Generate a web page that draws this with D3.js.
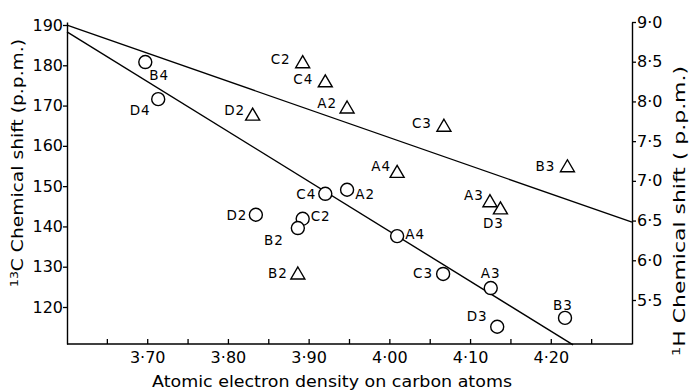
<!DOCTYPE html>
<html>
<head>
<meta charset="utf-8">
<script src="https://cdn.jsdelivr.net/npm/d3@7"></script>
<style>
  html, body { margin: 0; padding: 0; background: #fff; }
  svg { display: block; }
  text { font-family: "DejaVu Sans", "Liberation Sans", sans-serif; fill: #000; }
</style>
</head>
<body>
<svg id="chart" width="690" height="392"></svg>
<script>
// ---- Data ----
const xTicksMajor = [3.70, 3.80, 3.90, 4.00, 4.10, 4.20];
const xTicksMinor = [3.65, 3.75, 3.85, 3.95, 4.05, 4.15, 4.25];
const leftTicks = [120, 130, 140, 150, 160, 170, 180, 190];
const rightTicks = [5.5, 6.0, 6.5, 7.0, 7.5, 8.0, 8.5, 9.0];

// 13C shifts (circles, left axis)
const circleNames = ["B4", "D4", "C4", "A2", "D2", "C2", "B2", "A4", "C3", "A3", "D3", "B3"];
const circleDensity = [3.697, 3.713, 3.920, 3.947, 3.834, 3.892, 3.886, 4.009, 4.066, 4.125, 4.133, 4.217];
const circleC13 = [180.8, 171.6, 148.1, 149.1, 142.9, 141.9, 139.6, 137.6, 128.2, 124.7, 115.1, 117.3];

// 1H shifts (triangles, right axis)
const triNames = ["C2", "C4", "A2", "D2", "C3", "A4", "B3", "A3", "D3", "B2"];
const triDensity = [3.892, 3.920, 3.947, 3.830, 4.067, 4.009, 4.220, 4.124, 4.137, 3.886];
const triH1 = [8.50, 8.26, 7.93, 7.84, 7.70, 7.12, 7.19, 6.75, 6.66, 5.84];

// Regression lines (end points)
const lineC13Density = [3.60, 4.227];
const lineC13Shift = [188.3, 110.6];
const lineH1Density = [3.60, 4.30];
const lineH1Shift = [8.96, 6.48];

// Label placement (offset of label centre from marker, px)
const circleLabelOffset = [[14,13],[-18,11],[-19,0],[18,4],[-19,0],[18,-3],[-24,12],[18,-2],[-20,-1],[0,-15],[-20,-11],[-2,-13]];
const triLabelOffset = [[-22,-3],[-22,-2],[-20,-4],[-18,-4],[-22,-2],[-16,-5],[-22,0],[-16,-6],[-7,15],[-20,0]];

// ---- Layout ----
const L = 67, R = 632, T = 22, B = 344;
const svg = d3.select("#chart");

const x = d3.scaleLinear().domain([3.60, 4.30]).range([L, R]);
const yL = d3.scaleLinear().domain([190, 120]).range([25, 307]);
yL.domain([yL.invert(B), yL.invert(T)]).range([B, T]);
const yR = d3.scaleLinear().domain([9.0, 5.5]).range([22, 300]);
yR.domain([yR.invert(B), yR.invert(T)]).range([B, T]);

const fmtDot = (d, p) => d.toFixed(p).replace(".", "\u00B7");
const tickFont = "Liberation Sans";

// X axis (ticks pointing inward)
const gx = svg.append("g").attr("transform", `translate(0,${B})`);
gx.append("line").attr("x1", L).attr("x2", R).attr("stroke", "#000").attr("stroke-width", 1.4);
gx.selectAll("line.t").data(xTicksMajor.concat(xTicksMinor)).join("line")
  .attr("class", "t").attr("x1", d => x(d)).attr("x2", d => x(d))
  .attr("y1", 0).attr("y2", -5).attr("stroke", "#000").attr("stroke-width", 1.3);
gx.selectAll("text").data(xTicksMajor).join("text")
  .attr("x", d => x(d)).attr("y", 19).attr("text-anchor", "middle")
  .attr("font-family", tickFont).attr("font-size", 16).text(d => fmtDot(d, 2));

// Left axis
const gl = svg.append("g").attr("transform", `translate(${L},0)`);
gl.call(d3.axisLeft(yL).tickValues(leftTicks).tickSize(4).tickSizeOuter(0).tickFormat(d => d));
gl.select(".domain").attr("stroke-width", 1.4);
gl.selectAll(".tick line").attr("stroke-width", 1.3);
gl.selectAll(".tick text").attr("font-size", 16).attr("font-family", tickFont).attr("x", -4);

// Right axis
const gr = svg.append("g").attr("transform", `translate(${R},0)`);
gr.call(d3.axisRight(yR).tickValues(rightTicks).tickSize(4).tickSizeOuter(0).tickFormat(d => fmtDot(d, 1)));
gr.select(".domain").attr("stroke-width", 1.4);
gr.selectAll(".tick line").attr("stroke-width", 1.3);
gr.selectAll(".tick text").attr("font-size", 16).attr("font-family", tickFont).attr("x", 5);

// Axis titles
svg.append("text").attr("x", 332).attr("y", 387).attr("text-anchor", "middle")
  .attr("font-size", 15).attr("textLength", 360).attr("lengthAdjust", "spacingAndGlyphs")
  .text("Atomic electron density on carbon atoms");

const tl = svg.append("text").attr("transform", "translate(23,163) rotate(-90)")
  .attr("text-anchor", "middle").attr("font-size", 15)
  .attr("textLength", 248).attr("lengthAdjust", "spacingAndGlyphs");
tl.append("tspan").attr("font-size", 10).attr("dy", -5).text("13");
tl.append("tspan").attr("dy", 5).text("C Chemical shift (p.p.m.)");

const tr = svg.append("text").attr("transform", "translate(685,211) rotate(-90)")
  .attr("text-anchor", "middle").attr("font-size", 15)
  .attr("textLength", 290).attr("lengthAdjust", "spacingAndGlyphs");
tr.append("tspan").attr("font-size", 10).attr("dy", -5).text("1");
tr.append("tspan").attr("dy", 5).text("H Chemical shift ( p.p.m.)");

// Regression lines
svg.append("line")
  .attr("x1", x(lineC13Density[0])).attr("y1", yL(lineC13Shift[0]))
  .attr("x2", x(lineC13Density[1])).attr("y2", yL(lineC13Shift[1]))
  .attr("stroke", "#000").attr("stroke-width", 1.4);
svg.append("line")
  .attr("x1", x(lineH1Density[0])).attr("y1", yR(lineH1Shift[0]))
  .attr("x2", x(lineH1Density[1])).attr("y2", yR(lineH1Shift[1]))
  .attr("stroke", "#000").attr("stroke-width", 1.4);

// Circles (13C)
const circles = circleNames.map((n, i) => ({ n, x: circleDensity[i], y: circleC13[i], o: circleLabelOffset[i] }));
svg.selectAll("circle.c").data(circles).join("circle").attr("class", "c")
  .attr("cx", d => x(d.x)).attr("cy", d => yL(d.y)).attr("r", 6.5)
  .attr("fill", "#fff").attr("stroke", "#000").attr("stroke-width", 1.4);
svg.selectAll("text.cl").data(circles).join("text").attr("class", "cl")
  .attr("x", d => x(d.x) + d.o[0]).attr("y", d => yL(d.y) + d.o[1])
  .attr("text-anchor", "middle").attr("dominant-baseline", "central")
  .attr("font-size", 13.5).attr("letter-spacing", 1).text(d => d.n);

// Triangles (1H)
const tris = triNames.map((n, i) => ({ n, x: triDensity[i], y: triH1[i], o: triLabelOffset[i] }));
const tw = 14, th = 12;
svg.selectAll("path.t").data(tris).join("path").attr("class", "t")
  .attr("d", d => {
    const cx = x(d.x), cy = yR(d.y);
    return `M${cx},${cy - th / 2}L${cx + tw / 2},${cy + th / 2}L${cx - tw / 2},${cy + th / 2}Z`;
  })
  .attr("fill", "none").attr("stroke", "#000").attr("stroke-width", 1.4).attr("stroke-linejoin", "miter");
svg.selectAll("text.tl").data(tris).join("text").attr("class", "tl")
  .attr("x", d => x(d.x) + d.o[0]).attr("y", d => yR(d.y) + d.o[1])
  .attr("text-anchor", "middle").attr("dominant-baseline", "central")
  .attr("font-size", 13.5).attr("letter-spacing", 1).text(d => d.n);
</script>
</body>
</html>
